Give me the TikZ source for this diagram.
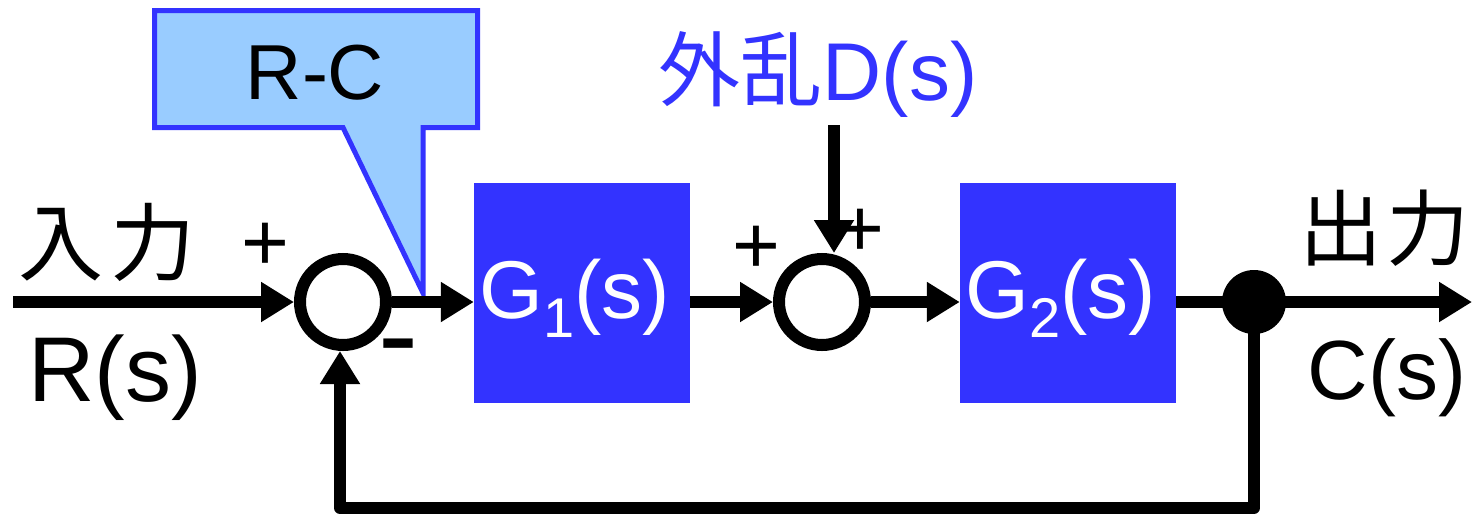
\documentclass[tikz,border=0pt]{standalone}
\usepackage{fontspec}
\setmainfont{Liberation Sans}
\newfontfamily\cjk{Noto Sans CJK JP}
\usetikzlibrary{arrows.meta}
\definecolor{blockblue}{RGB}{51,51,255}
\definecolor{calloutfill}{RGB}{153,204,255}
\newcommand{\fsz}[1]{\fontsize{#1}{#1}\selectfont}
\begin{document}
\begin{tikzpicture}[x=1pt,y=-1pt,
  wire/.style={line width=12pt,line join=round},
  arr/.style={wire,-{Triangle[length=33pt,width=38pt]}},
  sumpt/.style={circle,draw,line width=12pt,fill=white,minimum size=86pt,inner sep=0pt},
  block/.style={rectangle,fill=blockblue,minimum width=216pt,minimum height=220pt,inner sep=0pt},
  takeoff/.style={circle,fill=black,minimum size=64pt,inner sep=0pt},
  lbl/.style={inner sep=0pt,text=black},
  sign/.style={inner sep=0pt,font=\fsz{82}},
  blocktxt/.style={inner sep=0pt,text=white,font=\fsz{82}}]
\useasboundingbox (0,0) rectangle (1472,520);

% callout with the error signal label
\draw[line width=5pt,draw=blockblue,fill=calloutfill,line join=miter]
  (154.5,10.5) -- (477.5,10.5) -- (477.5,127.5) -- (423,127.5) -- (423,293)
  -- (343,127.5) -- (154.5,127.5) -- cycle;
\node[lbl,anchor=base,font=\fsz{78}] (rc) at (315,99) {R-C};

% blocks and junctions
\node[sumpt] (sum1) at (343,302) {};
\node[block] (g1) at (582,293) {};
\node[sumpt] (sum2) at (822,302) {};
\node[block] (g2) at (1068,293) {};
\node[takeoff] (dot) at (1254,302) {};

\node[blocktxt,anchor=base] (g1t) at (575,318) {G\raisebox{-19pt}{\fsz{56}1}(s)};
\node[blocktxt,anchor=base] (g2t) at (1061,318) {G\raisebox{-19pt}{\fsz{56}2}(s)};

% free ends
\coordinate (in) at (13,302);
\coordinate (out) at (1472,302);
\coordinate (dtop) at (834,125);
\coordinate (fb) at (340,508);

% forward path
\draw[arr] (in) -- (sum1.west);
\draw[arr] (sum1.east) -- (sum1.east -| g1.west);
\draw[arr] (sum2.west -| g1.east) -- (sum2.west);
\draw[arr] (sum2.east) -- (sum2.east -| g2.west);
\draw[wire] (dot.west -| g2.east) -- (dot.center);
\draw[arr] (dot.center) -- (out);

% disturbance input
\draw[arr] (dtop) -- (dtop |- sum2.north);

% feedback path
\draw[arr] (dot.center) |- (fb) -- (fb |- sum1.south);

% signs
\node[sign] (p1) at (265,247) {+};
\node[inner sep=0pt,anchor=base,font=\fsz{120}] (m1) at (398,375) {-};
\node[sign] (p2) at (756,250) {+};
\node[sign] (p3) at (860,233) {+};

% signal labels
\node[lbl,font=\cjk\fsz{85}] (inlbl) at (107,242) {入\hspace{8pt}力};
\node[lbl,anchor=base,font=\fsz{92}] (rs) at (115,401) {R(s)};
\node[lbl,font=\cjk\fsz{83}] (outlbl) at (1384,228) {出\hspace{4pt}力};
\node[lbl,anchor=base,font=\fsz{84}] (cs) at (1387,399) {C(s)};
\node[inner sep=0pt,anchor=base,text=blockblue,font=\fsz{82}] (dist) at (818,100) {{\cjk 外乱}D(s)};
\end{tikzpicture}
\end{document}
